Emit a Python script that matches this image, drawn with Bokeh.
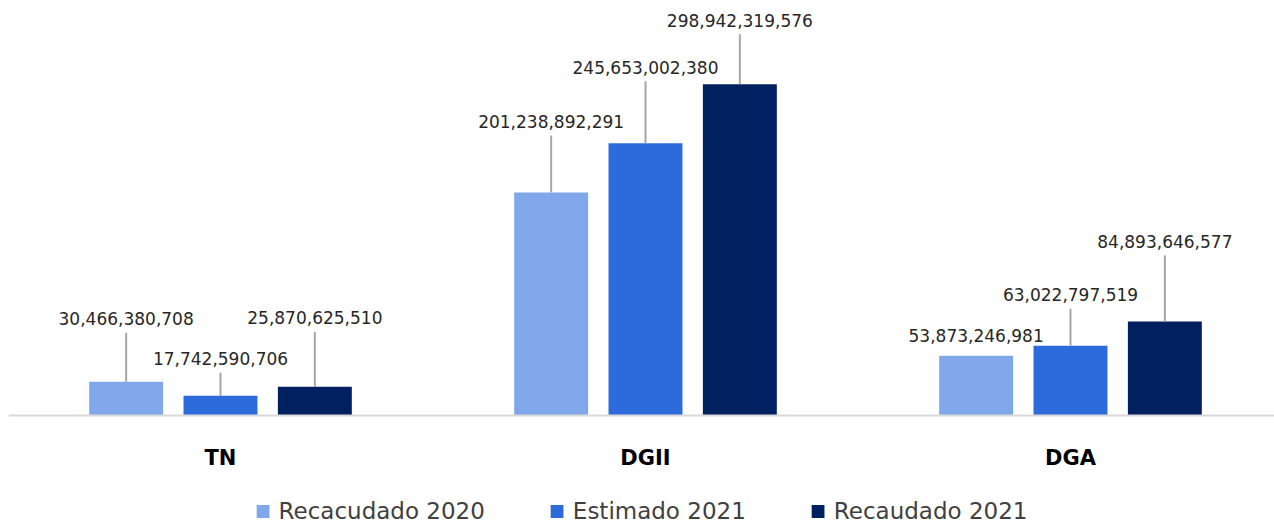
from bokeh.plotting import figure
from bokeh.models import ColumnDataSource, Range1d, FixedTicker, Legend, LegendItem
from bokeh.core.properties import value
from bokeh.embed import file_html
from bokeh.resources import INLINE

# ---- data ----
categories = ["TN", "DGII", "DGA"]
series_names = ["Recacudado 2020", "Estimado 2021", "Recaudado 2021"]
recacudado_2020 = [30466380708, 201238892291, 53873246981]
estimado_2021 = [17742590706, 245653002380, 63022797519]
recaudado_2021 = [25870625510, 298942319576, 84893646577]
series_values = [recacudado_2020, estimado_2021, recaudado_2021]

# ---- style / layout ----
colors = ["#7FA7EA", "#2D6BDC", "#002060"]
# distance (px) from bar top up to the centre of its data label
label_lift_px = [[63, 71, 20], [37, 76, 51], [69, 64, 80]]

FRAME_W = 1266
ABOVE_PX, BELOW_PX = 407, 110          # frame pixels above / below the zero baseline
GROUP_PX = 425
FIRST_CENTER_PX = 212
x_start = -FIRST_CENTER_PX / GROUP_PX
x_end = x_start + FRAME_W / GROUP_PX
y_top = 367.3e9
units_per_px = y_top / ABOVE_PX
step = 0.222
bar_w = 0.174
FONT = "DejaVu Sans"

p = figure(frame_width=FRAME_W, frame_height=ABOVE_PX + BELOW_PX,
           x_range=Range1d(x_start, x_end),
           y_range=Range1d(-BELOW_PX * units_per_px, y_top),
           output_backend="svg", toolbar_location=None, y_axis_location=None,
           min_border_left=8, min_border_right=0, min_border_top=8, min_border_bottom=0,
           outline_line_color=None, background_fill_color="white")
p.grid.visible = False

items = []
for i, (name, vals) in enumerate(zip(series_names, series_values)):
    xs = [c + (i - 1) * step for c in range(len(categories))]
    lifts = label_lift_px[i]
    src = ColumnDataSource(dict(
        x=xs, top=vals,
        label=[f"{v:,}" for v in vals],
        ly=[v + l * units_per_px for v, l in zip(vals, lifts)],
    ))
    r = p.vbar(x="x", top="top", bottom=0, width=bar_w, source=src,
               fill_color=colors[i], line_color=None)
    keep = [l - 14 > 6 for l in lifts]
    seg_x = [x for x, k in zip(xs, keep) if k]
    seg_y0 = [v for v, k in zip(vals, keep) if k]
    seg_y1 = [v + (l - 14) * units_per_px for v, l, k in zip(vals, lifts, keep) if k]
    p.segment(x0=seg_x, y0=seg_y0, x1=seg_x, y1=seg_y1, line_color="#A6A6A6", line_width=2)
    p.text(x="x", y="ly", text="label", source=src, text_align="center", text_baseline="middle",
           text_font=value(FONT), text_font_size="17px", text_color="#262626")
    items.append(LegendItem(label=name, renderers=[r]))

ax = p.xaxis[0]
ax.fixed_location = 0
ax.ticker = FixedTicker(ticks=list(range(len(categories))))
ax.major_label_overrides = {i: c for i, c in enumerate(categories)}
ax.major_label_text_font = FONT
ax.major_label_text_font_style = "bold"
ax.major_label_text_font_size = "21px"
ax.major_label_text_color = "#000000"
ax.major_tick_line_color = None
ax.minor_tick_line_color = None
ax.axis_line_color = "#D9D9D9"
ax.axis_line_width = 2
ax.major_label_standoff = 24

legend = Legend(items=items, orientation="horizontal", location="bottom_center",
                spacing=64, label_standoff=8, glyph_width=16, glyph_height=16,
                padding=0, margin=1, border_line_color=None, background_fill_alpha=0,
                label_text_font=FONT, label_text_font_size="23px",
                label_text_color="#404040")
p.add_layout(legend)

open("out.html", "w").write(file_html(p, INLINE))
